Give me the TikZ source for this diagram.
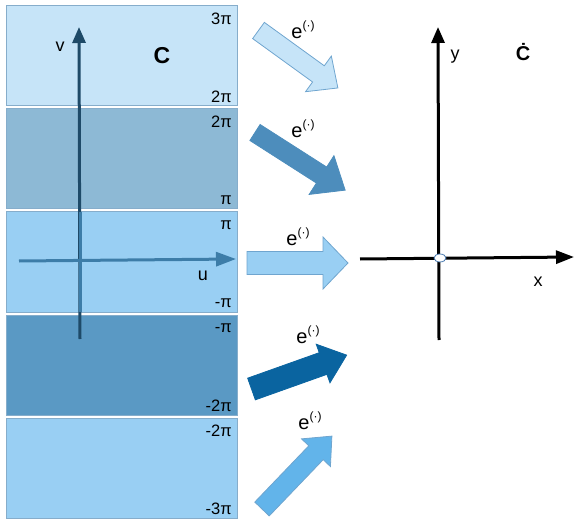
\documentclass[tikz,border=0pt]{standalone}
\usepackage{fontspec}
\setmainfont{Liberation Sans}
\usetikzlibrary{arrows.meta}

\definecolor{stripA}{HTML}{C6E4F8}
\definecolor{stripB}{HTML}{8DB9D5}
\definecolor{stripC}{HTML}{99CFF3}
\definecolor{stripD}{HTML}{5A99C4}
\definecolor{stripline}{HTML}{86ADCB}
\definecolor{vaxis}{HTML}{1E4A68}
\definecolor{uaxis}{HTML}{3D7DA8}
\definecolor{arrA}{HTML}{C6E4F8}
\definecolor{arrB}{HTML}{4D8DBC}
\definecolor{arrC}{HTML}{99CFF3}
\definecolor{arrD}{HTML}{0A64A0}
\definecolor{arrE}{HTML}{62B4EA}
\definecolor{arrline}{HTML}{6FA5CF}
\definecolor{originline}{HTML}{4A7AB0}

\newcommand{\emap}{e\raisebox{0.45em}{\fontsize{12}{12}\selectfont(·)}}

\tikzset{
  strip/.style={draw=stripline, line width=1pt},
  lbl/.style={font=\fontsize{16.5}{18}\selectfont, inner sep=0pt},
  axlbl/.style={font=\fontsize{18}{20}\selectfont, inner sep=0pt},
  maplbl/.style={font=\fontsize{20}{22}\selectfont, inner sep=0pt},
  axis/.style={line width=3pt, -{Triangle[length=16pt,width=13pt]}},
}

\begin{document}
\begin{tikzpicture}[x=1pt,y=-1pt]
    \useasboundingbox (0,0) rectangle (575,521);

    % the strips of the plane C
    \foreach \t/\c/\hi/\lo in {
        6/stripA/3π/2π,
        109/stripB/2π/π,
        212/stripC/π/-π,
        315/stripD/-π/-2π,
        418/stripC/-2π/-3π}{
      \draw[strip, fill=\c] (6,\t) rectangle (237,{\t+100});
      \node[lbl, anchor=east] (hi\t) at (232,{\t+13}) {\hi};
      \node[lbl, anchor=east] (lo\t) at (232,{\t+91}) {\lo};
    }

    % axes u, v
    \coordinate (vb) at (80,339);
    \coordinate (vt) at (79,27);
    \coordinate (vs) at (80,212);
    \coordinate (ve) at (80,312);
    \coordinate (ul) at (19,261);
    \coordinate (ur) at (236,259);
    \draw[axis, vaxis] (vb) -- (vt);
    \draw[line width=3pt, uaxis] (vs) -- (ve);
    \draw[axis, uaxis, -{Triangle[length=20pt,width=14pt]}] (ul) -- (ur);
    \node[axlbl] (v) at (60,47) {v};
    \node[axlbl] (u) at (203,276) {u};
    \node[font=\fontsize{23}{25}\selectfont\bfseries, inner sep=0pt] (C) at (162,56) {C};

    % block arrows for the map
    \foreach \x/\y/\a/\l/\w/\hw/\hl/\c/\d in {
        258.5/30.5/35.9/98/10/22/24/arrA/arrline,
        255/132.5/32.6/107/9.5/23/28/arrB/arrB,
        247/263/0/101/11.5/26/25/arrC/arrline,
        251.5/389/-19.6/101/11.5/20.5/25/arrD/arrD,
        262/509/-46.2/101/10/20/23/arrE/arrline}{
      \draw[fill=\c, draw=\d, line width=0.8pt, shift={(\x,\y)}, rotate=-\a]
        (0,-\w) -- ({\l-\hl},-\w) -- ({\l-\hl},-\hw) -- (\l,0)
        -- ({\l-\hl},\hw) -- ({\l-\hl},\w) -- (0,\w) -- cycle;
    }
    \node[maplbl] (e1) at (303,30) {\emap};
    \node[maplbl] (e2) at (303,129) {\emap};
    \node[maplbl] (e3) at (298,237) {\emap};
    \node[maplbl] (e4) at (308,335) {\emap};
    \node[maplbl] (e5) at (310,421) {\emap};

    % axes x, y of the punctured plane
    \coordinate (yb) at (439,340);
    \coordinate (yt) at (438,27);
    \coordinate (xl) at (360,259);
    \coordinate (xr) at (574,257);
    \draw[axis, black] (yb) -- (yt);
    \draw[axis, black, -{Triangle[length=18pt,width=13pt]}] (xl) -- (xr);
    \draw[originline, fill=white, line width=0.8pt] (440,258) ellipse (6 and 4);
    \node[axlbl] (y) at (455,57) {y};
    \node[axlbl] (x) at (538,282) {x};
    \node[font=\fontsize{20}{22}\selectfont\bfseries, inner sep=0pt] (Cdot) at (523,52) {Ċ};
\end{tikzpicture}
\end{document}
